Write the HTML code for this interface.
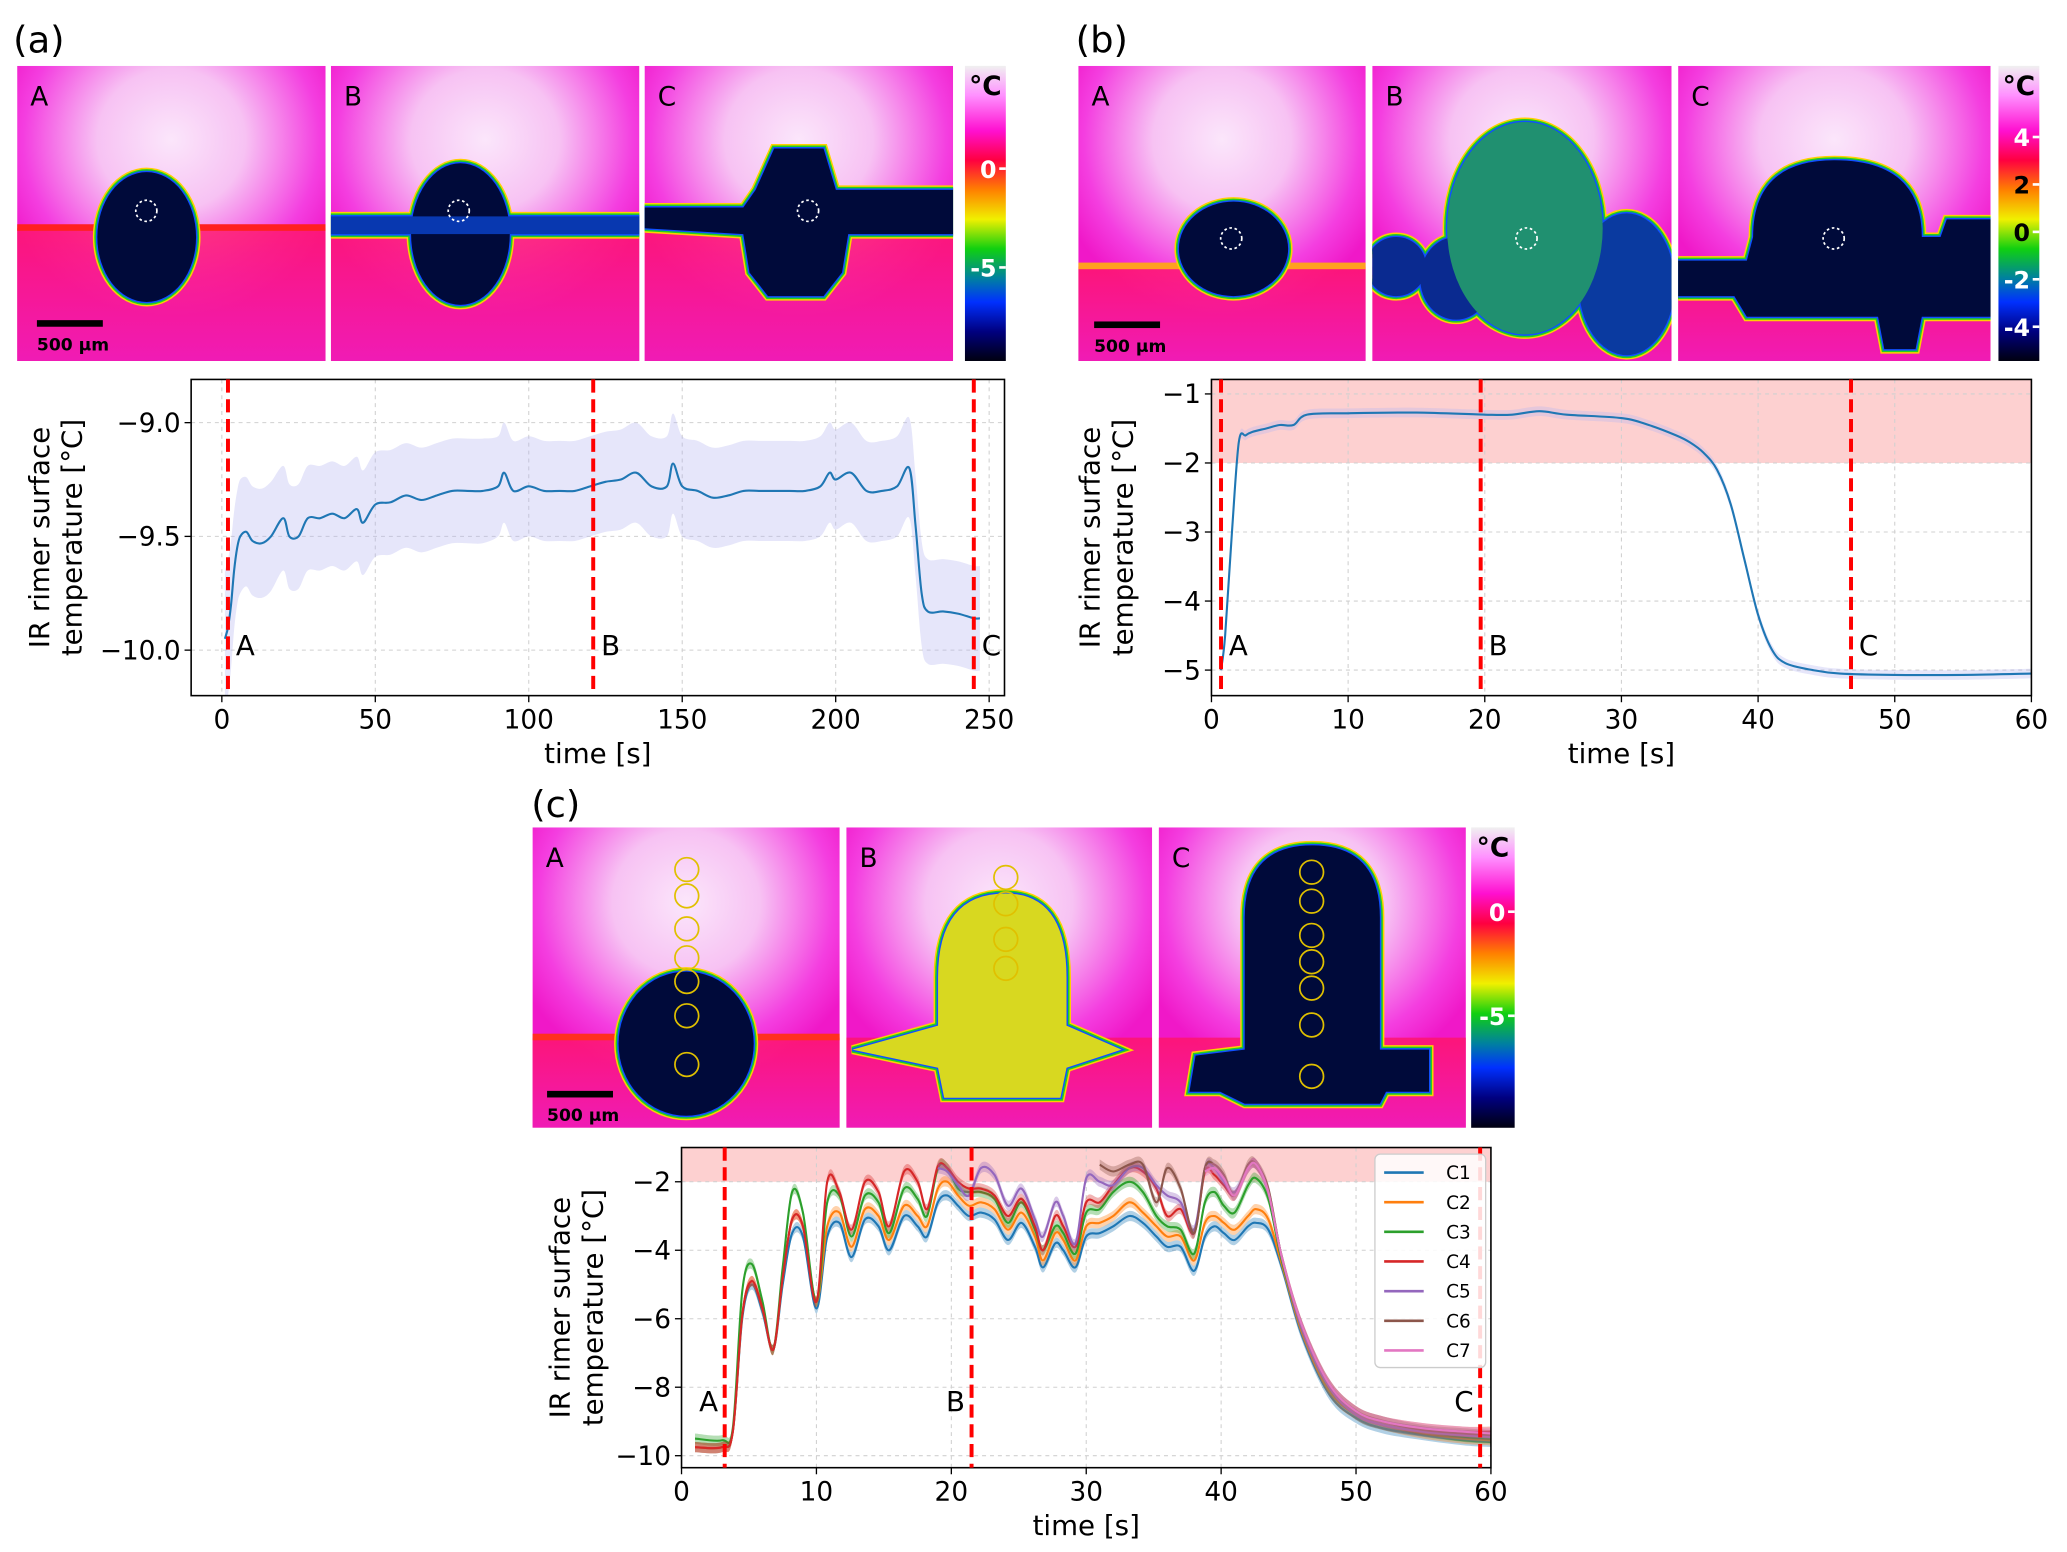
<!DOCTYPE html>
<html><head><meta charset="utf-8">
<style>
html,body{margin:0;padding:0;background:#fff;}
svg{display:block;font-family:"DejaVu Sans","Liberation Sans",sans-serif;}
</style></head>
<body>
<svg id="fig" width="2067" height="1552" viewBox="0 0 1568 1178" preserveAspectRatio="none" xmlns="http://www.w3.org/2000/svg">
<defs>
  <radialGradient id="glow" cx="0.5" cy="0.25" r="0.6">
    <stop offset="0" stop-color="#fbe6fb"/>
    <stop offset="0.4" stop-color="#f7c2f3"/>
    <stop offset="0.8" stop-color="#f43ee0"/>
    <stop offset="1" stop-color="#f018c8"/>
  </radialGradient>
  <linearGradient id="lower" x1="0" y1="0" x2="0" y2="1">
    <stop offset="0" stop-color="#ff1466"/>
    <stop offset="1" stop-color="#f01cb0"/>
  </linearGradient>
  <linearGradient id="cbar" x1="0" y1="0" x2="0" y2="1">
    <stop offset="0" stop-color="#f0f0f0"/>
    <stop offset="0.1" stop-color="#ff90ff"/>
    <stop offset="0.22" stop-color="#ff10d0"/>
    <stop offset="0.32" stop-color="#ff0040"/>
    <stop offset="0.42" stop-color="#ff8000"/>
    <stop offset="0.52" stop-color="#f0f000"/>
    <stop offset="0.62" stop-color="#10d010"/>
    <stop offset="0.72" stop-color="#0080a0"/>
    <stop offset="0.8" stop-color="#0030ff"/>
    <stop offset="0.9" stop-color="#000080"/>
    <stop offset="1" stop-color="#000010"/>
  </linearGradient>
</defs>
<g id="root"></g>
</svg>
<script>
// ---------- data: panel (a) ----------
const aTime=[1,2,3,4,5,6,8,10,13,16,20,22,25,28,32,36,40,44,46,50,55,60,65,70,75,80,85,90,92,95,100,105,110,115,120,125,130,135,140,145,147,150,155,160,165,170,175,180,185,190,195,198,200,205,210,215,220,224,226,228,230,235,240,245,247];
const aTemp=[-9.95,-9.9,-9.8,-9.65,-9.55,-9.5,-9.48,-9.52,-9.53,-9.5,-9.42,-9.5,-9.5,-9.42,-9.42,-9.4,-9.42,-9.38,-9.44,-9.36,-9.35,-9.32,-9.34,-9.32,-9.3,-9.3,-9.3,-9.28,-9.22,-9.3,-9.28,-9.3,-9.3,-9.3,-9.28,-9.26,-9.25,-9.22,-9.28,-9.28,-9.18,-9.28,-9.3,-9.33,-9.32,-9.3,-9.3,-9.3,-9.3,-9.3,-9.28,-9.22,-9.25,-9.22,-9.3,-9.3,-9.28,-9.2,-9.45,-9.75,-9.83,-9.83,-9.84,-9.86,-9.86];
const aSpread=[0.3,0.3,0.28,0.26,0.25,0.25,0.24,0.24,0.24,0.24,0.23,0.23,0.23,0.23,0.23,0.23,0.23,0.23,0.23,0.23,0.23,0.23,0.23,0.23,0.23,0.23,0.23,0.22,0.22,0.22,0.22,0.22,0.22,0.22,0.22,0.22,0.22,0.22,0.22,0.22,0.22,0.22,0.22,0.22,0.22,0.22,0.22,0.22,0.22,0.22,0.22,0.22,0.22,0.22,0.22,0.22,0.22,0.22,0.22,0.23,0.23,0.23,0.23,0.23,0.23];
const aMarks=[2,121,245];
const aXTicks=[0,50,100,150,200,250];
const aYTicks=[-9.0,-9.5,-10.0];
const aYLabels=["\u22129.0","\u22129.5","\u221210.0"];

// ---------- data: panel (b) ----------
const bTime=[0.7,1,1.5,2,2.5,3,4,5,6,7,10,15,20,22,24,26,30,32,34,35,36,37,38,39,40,41,42,44,46,50,55,60];
const bTemp=[-5,-4.5,-3,-1.7,-1.6,-1.55,-1.5,-1.45,-1.45,-1.3,-1.28,-1.27,-1.3,-1.3,-1.25,-1.3,-1.35,-1.45,-1.6,-1.7,-1.85,-2.1,-2.6,-3.4,-4.2,-4.7,-4.9,-5.0,-5.05,-5.07,-5.07,-5.05];
const bMarks=[0.7,19.7,46.8];
const bXTicks=[0,10,20,30,40,50,60];
const bYTicks=[-1,-2,-3,-4,-5];
const bYLabels=["\u22121","\u22122","\u22123","\u22124","\u22125"];

// ---------- data: panel (c) ----------
const cTime=[1,3,3.8,4.5,5.2,6,6.8,7.5,8.2,9,10,10.8,11.7,12.6,13.6,14.6,15.4,16.5,17.5,18.2,19,19.7,20.5,21.3,22.2,23.2,24.2,25.2,26.2,26.8,27.7,28.3,29.2,30,31,32,33.2,34.2,35.2,36,37,38,38.8,39.5,40.2,41,42,42.6,43.5,44.5,46,48,50,52,55,58,60];
const cC1=[-9.75,-9.75,-9.3,-6,-5,-5.8,-6.9,-5,-3.5,-3.6,-5.7,-3.6,-3.2,-4.2,-3.1,-3.3,-4.0,-3.0,-3.3,-3.6,-2.6,-2.4,-2.7,-3.0,-2.9,-3.1,-3.7,-3.2,-3.9,-4.5,-3.8,-4.0,-4.5,-3.6,-3.5,-3.3,-3.0,-3.2,-3.6,-3.9,-3.9,-4.6,-3.6,-3.3,-3.5,-3.7,-3.3,-3.2,-3.4,-4.5,-6.5,-8.2,-8.9,-9.2,-9.4,-9.55,-9.6];
const cC2=[-9.75,-9.75,-9.3,-5.9,-4.9,-5.7,-6.9,-4.8,-3.1,-3.3,-5.5,-3.3,-2.9,-3.9,-2.8,-3.0,-3.7,-2.7,-3.0,-3.3,-2.2,-2.0,-2.4,-2.7,-2.6,-2.8,-3.4,-2.9,-3.6,-4.3,-3.5,-3.7,-4.3,-3.3,-3.2,-3.0,-2.6,-2.9,-3.3,-3.6,-3.6,-4.3,-3.2,-3.0,-3.2,-3.4,-3.0,-2.8,-3.1,-4.4,-6.4,-8.1,-8.8,-9.1,-9.35,-9.5,-9.55];
const cC3=[-9.5,-9.55,-9.2,-5.2,-4.4,-5.5,-6.9,-4.5,-2.3,-2.9,-5.5,-2.6,-2.4,-3.6,-2.4,-2.6,-3.5,-2.2,-2.5,-3.0,-1.6,-1.6,-2.2,-2.3,-2.3,-2.5,-3.2,-2.6,-3.4,-4.0,-3.3,-3.5,-4.1,-2.9,-2.8,-2.3,-2.0,-2.3,-3.0,-3.3,-3.4,-4.1,-2.6,-2.3,-2.7,-2.9,-2.1,-1.9,-2.5,-4.3,-6.3,-8.0,-8.8,-9.1,-9.3,-9.45,-9.5];
const cC4=[-9.75,-9.75,-9.3,-5.9,-4.9,-5.7,-6.9,-4.8,-3.1,-3.3,-5.5,-2.0,-2.3,-3.4,-2.0,-2.3,-3.3,-1.7,-2.0,-2.8,-1.55,-1.6,-2.0,-2.2,-2.2,-2.4,-3.0,-2.5,-3.3,-4.0,-3.0,-3.3,-3.9,-2.6,-2.6,-2.1,-1.6,-1.7,-2.2,-3.0,-2.8,-3.5,-1.7,-1.8,-2.1,-2.4,-1.6,-1.5,-2.3,-4.2,-6.2,-7.9,-8.7,-9.0,-9.2,-9.3,-9.3];
const cC5=[null,null,null,null,null,null,null,null,null,null,null,null,null,null,null,null,null,null,null,null,-1.6,-1.7,-2.1,-2.4,-1.6,-1.8,-2.7,-2.2,-3.1,-3.6,-2.6,-3.0,-3.8,-1.9,-2.0,-2.1,-1.6,-1.6,-2.1,-2.4,-2.6,-3.4,-1.6,-1.6,-2.0,-2.3,-1.6,-1.5,-2.3,-4.2,-6.3,-8.0,-8.8,-9.1,-9.3,-9.4,-9.45];
const cC6=[null,null,null,null,null,null,null,null,null,null,null,null,null,null,null,null,null,null,null,null,null,null,null,null,null,null,null,null,null,null,null,null,null,null,-1.5,-1.7,-1.5,-1.5,-2.6,-1.6,-2.2,-3.5,-1.6,-1.5,-1.8,-2.4,-1.5,-1.5,-2.2,-4.2,-6.2,-7.9,-8.7,-9.0,-9.25,-9.35,-9.4];
const cC7=[null,null,null,null,null,null,null,null,null,null,null,null,null,null,null,null,null,null,null,null,null,null,null,null,null,null,null,null,null,null,null,null,null,null,null,null,null,null,null,null,null,null,-1.7,-1.6,-1.9,-2.4,-1.6,-1.5,-2.3,-4.2,-6.2,-7.9,-8.7,-9.0,-9.2,-9.3,-9.35];
const cNames=["C1","C2","C3","C4","C5","C6","C7"];
const cColors=["#1f77b4","#ff7f0e","#2ca02c","#d62728","#9467bd","#8c564b","#e377c2"];
const cMarks=[3.2,21.5,59.2];
const cXTicks=[0,10,20,30,40,50,60];
const cYTicks=[-2,-4,-6,-8,-10];
const cYLabels=["\u22122","\u22124","\u22126","\u22128","\u221210"];

const NS="http://www.w3.org/2000/svg";
const root=document.getElementById('root');
function el(tag,attrs,parent,text){const e=document.createElementNS(NS,tag);for(const k in attrs)e.setAttribute(k,attrs[k]);if(text!==undefined)e.textContent=text;(parent||root).appendChild(e);return e;}

function smoothPath(pts){
  if(pts.length<2)return "";
  let d="M"+pts[0][0].toFixed(2)+","+pts[0][1].toFixed(2);
  for(let i=0;i<pts.length-1;i++){
    const p0=pts[i-1]||pts[i],p1=pts[i],p2=pts[i+1],p3=pts[i+2]||p2;
    const c1=[p1[0]+(p2[0]-p0[0])/6,p1[1]+(p2[1]-p0[1])/6];
    const c2=[p2[0]-(p3[0]-p1[0])/6,p2[1]-(p3[1]-p1[1])/6];
    d+="C"+c1[0].toFixed(2)+","+c1[1].toFixed(2)+" "+c2[0].toFixed(2)+","+c2[1].toFixed(2)+" "+p2[0].toFixed(2)+","+p2[1].toFixed(2);
  }
  return d;
}

let clipId=0;
function makeAxes(o){
  const g=el('g',{});
  
  
  const sx=v=>o.x0+(v-o.xmin)/(o.xmax-o.xmin)*(o.x1-o.x0);
  const sy=v=>o.y0+(o.ymax-v)/(o.ymax-o.ymin)*(o.y1-o.y0);
  const cid='clip'+(clipId++);
  const cp=el('clipPath',{id:cid},g);el('rect',{x:o.x0,y:o.y0,width:o.x1-o.x0,height:o.y1-o.y0},cp);
  if(o.shadeAbove!==undefined){
    const r=el('rect',{x:o.x0,y:o.y0,width:o.x1-o.x0,height:sy(o.shadeAbove)-o.y0,fill:'#fdd0d0'},g);
    
    
  }
  o.xticks.forEach(t=>{el('line',{x1:sx(t),x2:sx(t),y1:o.y0,y2:o.y1,stroke:'#d0d0d0','stroke-width':0.8,'stroke-dasharray':'3,3'},g);});
  o.yticks.forEach(t=>{el('line',{x1:o.x0,x2:o.x1,y1:sy(t),y2:sy(t),stroke:'#d0d0d0','stroke-width':0.8,'stroke-dasharray':'3,3'},g);});
  const inner=el('g',{'clip-path':'url(#'+cid+')'},g);
  o.xticks.forEach(t=>{
    el('line',{x1:sx(t),x2:sx(t),y1:o.y1,y2:o.y1+5,stroke:'#000','stroke-width':1},g);
    const tx=el('text',{x:sx(t),y:o.y1+25,'font-size':20,'text-anchor':'middle',fill:'#000'},g,String(t));
    
    
  });
  o.yticks.forEach((t,i)=>{
    el('line',{x1:o.x0-5,x2:o.x0,y1:sy(t),y2:sy(t),stroke:'#000','stroke-width':1},g);
    const ty=el('text',{x:o.x0-8,y:sy(t)+7,'font-size':20,'text-anchor':'end',fill:'#000'},g,o.ylabels[i]);
    
    
  });
  const xl=el('text',{x:(o.x0+o.x1)/2,y:o.y1+51,'font-size':21,'text-anchor':'middle'},g,'time [s]');
  
  
  const yl=el('text',{transform:'translate('+(o.x0-o.ylabOff)+','+((o.y0+o.y1)/2)+') rotate(-90)','font-size':21,'text-anchor':'middle'},g);
  
  
  el('tspan',{x:0,dy:-13},yl,'IR rimer surface');
  el('tspan',{x:0,dy:25},yl,'temperature [\u00b0C]');
  const frame=el('rect',{x:o.x0,y:o.y0,width:o.x1-o.x0,height:o.y1-o.y0,fill:'none',stroke:'#000','stroke-width':1.2},g);
  
  
  return {g,inner,sx,sy};
}

function drawSeries(ax,times,vals,color,spread,bandColor,name){
  const pts=[],up=[],lo=[];
  times.forEach((t,i)=>{ if(vals[i]===null)return; pts.push([ax.sx(t),ax.sy(vals[i])]); up.push([ax.sx(t),ax.sy(vals[i]+spread[i])]); lo.push([ax.sx(t),ax.sy(vals[i]-spread[i])]); });
  if(spread){
    const lr=lo.slice().reverse();
    const d=smoothPath(up)+"L"+smoothPath(lr).slice(1)+"Z";
    const b=el('path',{d:d,fill:bandColor,'fill-opacity':0.35,stroke:'none'},ax.inner);
    
    
  }
  const p=el('path',{d:smoothPath(pts),fill:'none',stroke:color,'stroke-width':1.6},ax.inner);
  
  
}

function drawMarks(ax,marks,labelY,o,dxs){
  marks.forEach((m,i)=>{
    const l=el('line',{x1:ax.sx(m),x2:ax.sx(m),y1:o.y0,y2:o.y1,stroke:'#ff0000','stroke-width':3,'stroke-dasharray':'10,5'},ax.g);
    
    
    const t=el('text',{x:ax.sx(m)+dxs[i],y:labelY,'font-size':21,fill:'#000','text-anchor':dxs[i]<0?'end':'start'},ax.g,'ABC'[i]);
    
    
  });
}

// ---------- Chart (a) ----------
const oA={name:'chart-a',x0:145,x1:762,y0:288,y1:528,xmin:-10,xmax:255,ymin:-10.2,ymax:-8.81,xticks:aXTicks,yticks:aYTicks,ylabels:aYLabels,ylabOff:95};
const axA=makeAxes(oA);
drawSeries(axA,aTime,aTemp,'#1f77b4',aSpread,'#b8b8f0','mean-temperature');
drawMarks(axA,aMarks,497,oA,[6,6,6]);

// ---------- Chart (b) ----------
const oB={name:'chart-b',x0:919,x1:1541,y0:288,y1:528,xmin:0,xmax:60,ymin:-5.37,ymax:-0.79,xticks:bXTicks,yticks:bYTicks,ylabels:bYLabels,ylabOff:72,shadeAbove:-2};
const axB=makeAxes(oB);
const bSpread=bTemp.map(()=>0.07);
drawSeries(axB,bTime,bTemp,'#1f77b4',bSpread,'#b8b8f0','mean-temperature');
drawMarks(axB,bMarks,497,oB,[6,6,6]);

// ---------- Chart (c) ----------
const oC={name:'chart-c',x0:517,x1:1131,y0:871,y1:1114,xmin:0,xmax:60,ymin:-10.35,ymax:-1.0,xticks:cXTicks,yticks:cYTicks,ylabels:cYLabels,ylabOff:72,shadeAbove:-2};
const axC=makeAxes(oC);
const cSeries=[cC1,cC2,cC3,cC4,cC5,cC6,cC7];
cSeries.forEach((s,i)=>{ const sp=s.map(()=>0.15); drawSeries(axC,cTime,s,cColors[i],sp,cColors[i],cNames[i].toLowerCase()); });
drawMarks(axC,cMarks,1071,oC,[-5,-5,-5]);
const lg=el('g',{},axC.g);


el('rect',{x:1043,y:876,width:84,height:162,rx:4,fill:'#fff','fill-opacity':0.85,stroke:'#ccc'},lg);
cNames.forEach((n,i)=>{
  const y=890+i*22.5;
  const e=el('g',{},lg);
  
  
  el('line',{x1:1050,x2:1080,y1:y,y2:y,stroke:cColors[i],'stroke-width':2},e);
  el('text',{x:1097,y:y+5,'font-size':14},e,n);
});

// ---------- Thermal images ----------
function thermal(x,y,w,h,name,label,shapes,band){
  const g=el('g',{});
  
  
  const cid='clip'+(clipId++);
  const cp=el('clipPath',{id:cid},g);el('rect',{x:x,y:y,width:w,height:h},cp);
  const inner=el('g',{'clip-path':'url(#'+cid+')'},g);
  el('rect',{x:x,y:y,width:w,height:h,fill:'url(#glow)'},inner);
  el('rect',{x:x,y:y+h*band.y,width:w,height:h*(1-band.y),fill:'url(#lower)','fill-opacity':0.8},inner);
  if(band.line)el('rect',{x:x,y:y+h*band.y-3,width:w,height:5,fill:band.line},inner);
  const t=el('g',{transform:'translate('+x+','+y+') scale('+(w/100)+','+(h/100)+')'},inner);
  const layers=[['#ffd000',9],['#20d020',6],['#1050ff',3]];
  layers.forEach(L=>shapes.forEach(s=>el(s.tag,Object.assign({},s.a,{fill:'none',stroke:L[0],'stroke-width':L[1],'vector-effect':'non-scaling-stroke'}),t)));
  shapes.forEach(s=>el(s.tag,Object.assign({},s.a,{fill:s.fill||'#000a3a'}),t));
  const lt=el('text',{x:x+10,y:y+30,'font-size':20,fill:'#000'},g,label);
  
  
  return g;
}
function colorbar(x,y,w,h,ticks){
  const g=el('g',{});
  
  
  el('rect',{x:x,y:y,width:w,height:h,fill:'url(#cbar)'},g);
  el('text',{x:x+w/2,y:y+22,'font-size':20,'font-weight':'bold','text-anchor':'middle',fill:'#000'},g,'\u00b0C');
  ticks.forEach(t=>{
    el('line',{x1:x+w-5,x2:x+w,y1:t[1],y2:t[1],stroke:'#fff','stroke-width':2},g);
    el('text',{x:x+w-7,y:t[1]+7,'font-size':18,'font-weight':'bold','text-anchor':'end',fill:t[2]||'#fff'},g,t[0]);
  });
}
function scalebar(x,y){
  const g=el('g',{});
  
  
  el('rect',{x:x,y:y,width:50,height:5,fill:'#000'},g);
  el('text',{x:x,y:y+23,'font-size':13,'font-weight':'bold',fill:'#000'},g,'500 \u00b5m');
}
function ring(x,y,r,color,dash){const c=el('circle',{cx:x,cy:y,r:r,fill:'none',stroke:color,'stroke-width':1.3,'stroke-dasharray':dash||'none'});}

const pl=(t,s,p)=>{const e=el('text',{x:p[0],y:p[1],'font-size':28,fill:'#000'},root,t);};
pl('(a)','a',[10,40]);pl('(b)','b',[816,40]);pl('(c)','c',[403,620]);

// panel (a)
thermal(13,50,234,224,'image-a-A','A',[{tag:'ellipse',a:{cx:42,cy:58,rx:16,ry:22}}],{y:0.55,line:'#ff2020'});
thermal(251,50,234,224,'image-a-B','B',[{tag:'ellipse',a:{cx:42,cy:57,rx:16,ry:24}},{tag:'rect',a:{x:0,y:51,width:100,height:6},fill:'#0838b0'}],{y:0.55});
thermal(489,50,234,224,'image-a-C','C',[{tag:'path',a:{d:'M36,42 L42,28 L58,28 L62,42 L100,42 L100,57 L66,57 L64,70 L58,78 L40,78 L34,70 L32,57 L0,55 L0,48 L32,48 Z'}}],{y:0.55});
colorbar(732,50,31,224,[['0',128],['-5',203]]);
scalebar(28,243);
ring(111,160,8,'#fff','2,2');ring(348,160,8,'#fff','2,2');ring(613,160,8,'#fff','2,2');

// panel (b)
thermal(818,50,218,224,'image-b-A','A',[{tag:'ellipse',a:{cx:54,cy:62,rx:19,ry:16}}],{y:0.68,line:'#ffa020'});
thermal(1041,50,227,224,'image-b-B','B',[
  {tag:'ellipse',a:{cx:8,cy:68,rx:10,ry:10},fill:'#0a2a90'},
  {tag:'ellipse',a:{cx:28,cy:72,rx:12,ry:14},fill:'#0a2a90'},
  {tag:'ellipse',a:{cx:85,cy:74,rx:16,ry:24},fill:'#0a3aa0'},
  {tag:'ellipse',a:{cx:51,cy:55,rx:26,ry:36},fill:'#209070'}],{y:0.68});
thermal(1273,50,237,224,'image-b-C','C',[{tag:'path',a:{d:'M24,58 Q24,32 50,32 Q78,32 78,58 L84,58 L86,52 L100,52 L100,85 L78,85 L76,96 L66,96 L64,85 L22,85 L18,78 L0,78 L0,66 L22,66 Z'}}],{y:0.68});
colorbar(1516,50,31,224,[['4',104],['2',140,'#000'],['0',176,'#000'],['-2',212],['-4',248]]);
scalebar(830,244);
ring(934,181,8,'#fff','2,2');ring(1158,181,8,'#fff','2,2');ring(1391,181,8,'#fff','2,2');

// panel (c)
thermal(404,628,233,228,'image-c-A','A',[{tag:'ellipse',a:{cx:50,cy:72,rx:22,ry:24}}],{y:0.7,line:'#ff3020'});
thermal(642,628,232,228,'image-c-B','B',[{tag:'path',a:{d:'M30,50 Q30,22 52,22 Q72,22 72,50 L72,66 L90,74 L72,80 L70,90 L32,90 L30,80 L2,74 L30,66 Z'},fill:'#d8d820'}],{y:0.7});
thermal(879,628,233,228,'image-c-C','C',[{tag:'path',a:{d:'M28,30 Q28,6 50,6 Q72,6 72,30 L72,74 L88,74 L88,88 L74,88 L72,92 L28,92 L20,88 L10,88 L12,76 L28,74 Z'}}],{y:0.7});
colorbar(1116,628,33,228,[['0',692],['-5',771]]);
scalebar(415,828);
[660,680,705,727,745,771,808].forEach(yy=>ring(521,yy,9,'#e0c000'));
[666,686,713,735].forEach(yy=>ring(763,yy,9,'#e0c000'));
[662,684,710,730,750,778,817].forEach(yy=>ring(995,yy,9,'#e0c000'));
</script>
</body></html>
